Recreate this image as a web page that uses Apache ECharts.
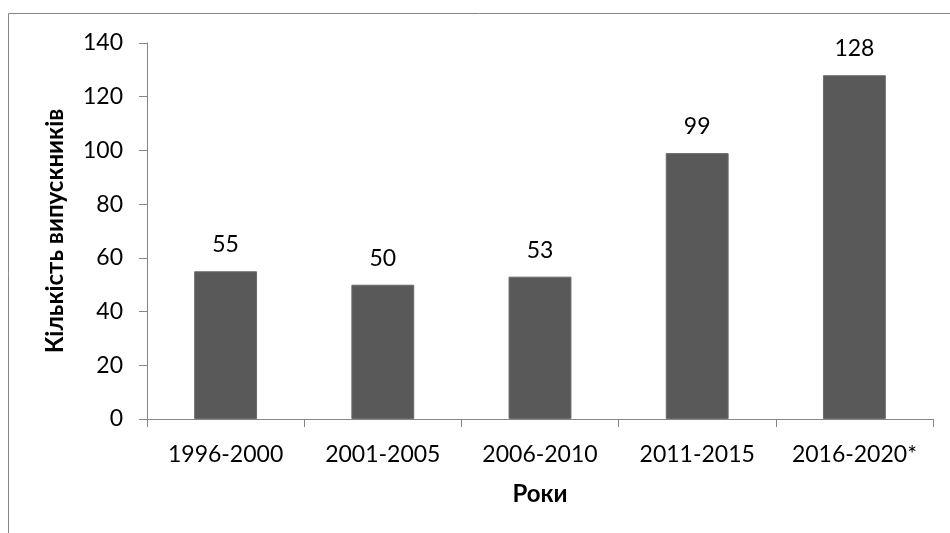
<!DOCTYPE html>
<html>
<head>
<meta charset="utf-8">
<script src="https://cdn.jsdelivr.net/npm/echarts@6/dist/echarts.min.js"></script>
<style>html,body{margin:0;padding:0;background:#fff}#c{width:950px;height:533px}</style>
</head>
<body>
<div id="c"></div>
<script>
var categories = ['1996-2000', '2001-2005', '2006-2010', '2011-2015', '2016-2020*'];
var graduates = [55, 50, 53, 99, 128];
var yTicks = [0, 20, 40, 60, 80, 100, 120, 140];

var FONT = 'Lato';
var chart = echarts.init(document.getElementById('c'), null, {renderer: 'canvas'});
chart.setOption({
  animation: false,
  backgroundColor: '#ffffff',
  graphic: [{
    type: 'rect', silent: true,
    shape: {x: 8.5, y: 13.5, width: 1200, height: 800},
    style: {fill: 'none', stroke: '#868686', lineWidth: 1}
  }],
  grid: {left: 147, right: 17, top: 43, bottom: 114, containLabel: false},
  xAxis: {
    type: 'category',
    data: categories,
    name: 'Роки',
    nameLocation: 'middle',
    nameGap: 63,
    nameTextStyle: {fontFamily: FONT, fontWeight: 'bold', fontSize: 24, color: '#000'},
    axisLine: {lineStyle: {color: '#868686', width: 1}},
    axisTick: {show: true, length: 8, alignWithLabel: false, lineStyle: {color: '#868686'}},
    axisLabel: {fontFamily: FONT, fontSize: 23, color: '#000', margin: 24, interval: 0}
  },
  yAxis: {
    type: 'value',
    min: yTicks[0],
    max: yTicks[yTicks.length - 1],
    interval: yTicks[1] - yTicks[0],
    name: 'Кількість випускників',
    nameLocation: 'middle',
    nameGap: 80,
    nameTextStyle: {fontFamily: FONT, fontWeight: 'bold', fontSize: 24, color: '#000'},
    axisLine: {show: true, lineStyle: {color: '#868686', width: 1}},
    axisTick: {show: true, length: 8, lineStyle: {color: '#868686'}},
    axisLabel: {fontFamily: FONT, fontSize: 23, color: '#000', margin: 24},
    splitLine: {show: false}
  },
  series: [{
    type: 'bar',
    data: graduates,
    barCategoryGap: '60%',
    itemStyle: {color: '#595959', borderColor: '#6b6b6b', borderWidth: 1},
    label: {show: true, position: 'top', distance: 15, fontFamily: FONT, fontSize: 23, color: '#000'}
  }]
});
</script>
</body>
</html>
